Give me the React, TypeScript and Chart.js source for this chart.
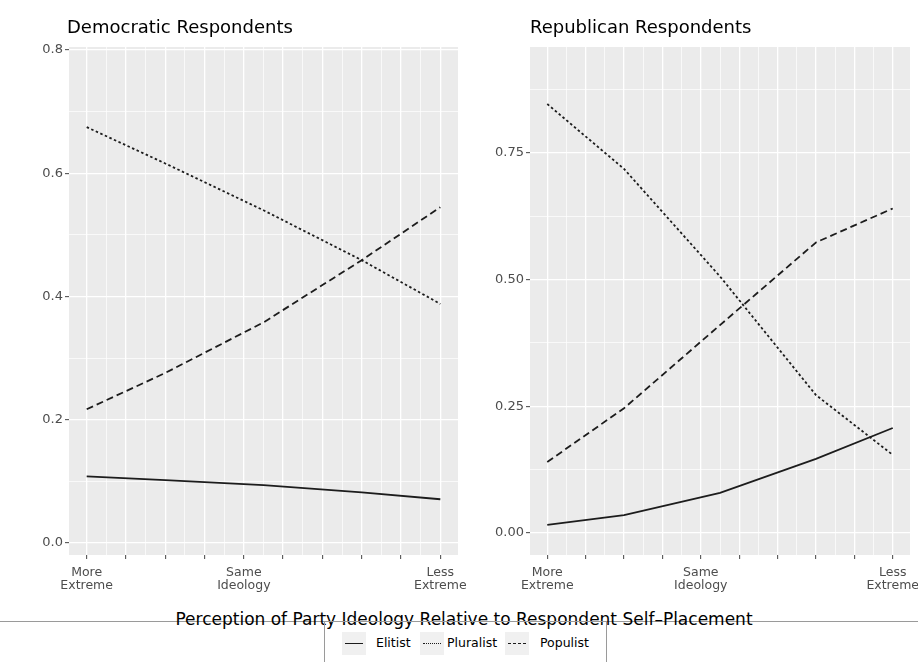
import React, { useEffect, useRef } from "react";
import { Chart, registerables } from "chart.js";

Chart.register(...registerables);

// ---- data ----
const xPositions = [0, 2, 4.5, 7, 9];

const demElitist = [0.108, 0.102, 0.094, 0.082, 0.071];
const demPluralist = [0.675, 0.616, 0.54, 0.459, 0.388];
const demPopulist = [0.217, 0.276, 0.358, 0.459, 0.545];

const repElitist = [0.016, 0.035, 0.079, 0.146, 0.207];
const repPluralist = [0.846, 0.718, 0.506, 0.272, 0.154];
const repPopulist = [0.14, 0.246, 0.41, 0.573, 0.64];

const seriesNames = ["Elitist", "Pluralist", "Populist"];

// x ticks: majors at integers, minors at halves
const xTickValues = [0, 0.5, 1, 1.5, 2, 2.5, 3, 3.5, 4, 4.5, 5, 5.5, 6, 6.5, 7, 7.5, 8, 8.5, 9];
const xTickLabels: (string | string[])[] = [
  ["More", "Extreme"], "", "", "", "", "", "", "", ["Same", "Ideology"], "", "", "", "", "", "", "", "", "", ["Less", "Extreme"],
];

const demYTicks = [0, 0.1, 0.2, 0.3, 0.4, 0.5, 0.6, 0.7, 0.8];
const demYLabels = ["0.0", "", "0.2", "", "0.4", "", "0.6", "", "0.8"];
const repYTicks = [0, 0.125, 0.25, 0.375, 0.5, 0.625, 0.75, 0.875];
const repYLabels = ["0.00", "", "0.25", "", "0.50", "", "0.75", ""];

const axisTitle = "Perception of Party Ideology Relative to Respondent Self\u2013Placement";

const FONT = "'DejaVu Sans', 'Liberation Sans', sans-serif";
const LINE_COLOR = "#1c1c1c";
const dashes: number[][] = [[], [2.5, 2.5], [7, 4]];

type PanelProps = {
  title: string;
  series: number[][];
  yTicks: number[];
  yLabels: string[];
  yMin: number;
  yMax: number;
  canvasLeft: number;
  canvasWidth: number;
  yAxisWidth: number;
  padRight: number;
  titleDx: number;
};

function Panel(p: PanelProps) {
  const ref = useRef<HTMLCanvasElement | null>(null);
  useEffect(() => {
    if (!ref.current) return;
    const bgPlugin = {
      id: "panelBg",
      beforeDraw(chart: any) {
        const { ctx, chartArea } = chart;
        ctx.save();
        ctx.fillStyle = "#ebebeb";
        ctx.fillRect(chartArea.left, chartArea.top, chartArea.right - chartArea.left, chartArea.bottom - chartArea.top);
        ctx.restore();
      },
      afterDraw(chart: any) {
        const { ctx, chartArea } = chart;
        ctx.save();
        ctx.fillStyle = "#000";
        ctx.font = `18px ${FONT}`;
        ctx.textBaseline = "alphabetic";
        ctx.textAlign = "left";
        ctx.fillText(p.title, chartArea.left + p.titleDx, 33);
        ctx.restore();
      },
    };
    const chart = new Chart(ref.current, {
      type: "line",
      data: {
        datasets: p.series.map((vals, i) => ({
          label: seriesNames[i],
          data: xPositions.map((x, j) => ({ x, y: vals[j] })),
          borderColor: LINE_COLOR,
          borderWidth: 1.8,
          borderDash: dashes[i],
          pointRadius: 0,
          tension: 0,
          fill: false,
        })),
      },
      options: {
        animation: false,
        responsive: false,
        devicePixelRatio: 1,
        layout: { padding: { top: 47, left: 0, right: p.padRight, bottom: 0 } },
        plugins: { legend: { display: false }, tooltip: { enabled: false }, title: { display: false } },
        scales: {
          x: {
            type: "linear",
            min: -0.45,
            max: 9.45,
            afterBuildTicks: (s: any) => {
              s.ticks = xTickValues.map((v) => ({ value: v }));
            },
            afterFit: (s: any) => {
              s.height = 45;
              s.paddingLeft = 0;
              s.paddingRight = 0;
            },
            border: { display: false },
            grid: {
              color: "#ffffff",
              lineWidth: (c: any) => (c.index % 2 === 0 ? 1.3 : 0.7),
              tickColor: (c: any) => (c.index % 2 === 0 ? "#444" : "rgba(0,0,0,0)"),
              tickLength: 4,
              tickWidth: 1,
            },
            ticks: {
              autoSkip: false,
              maxRotation: 0,
              minRotation: 0,
              padding: 7,
              color: "#4d4d4d",
              font: { family: FONT, size: 12.5, lineHeight: 1.05 },
              callback: (_v: any, i: number) => xTickLabels[i],
            },
          },
          y: {
            type: "linear",
            min: p.yMin,
            max: p.yMax,
            afterBuildTicks: (s: any) => {
              s.ticks = p.yTicks.map((v) => ({ value: v }));
            },
            afterFit: (s: any) => {
              s.width = p.yAxisWidth;
              s.paddingTop = 0;
              s.paddingBottom = 0;
            },
            border: { display: false },
            grid: {
              color: "#ffffff",
              lineWidth: (c: any) => (c.index % 2 === 0 ? 1.3 : 0.7),
              tickColor: (c: any) => (c.index % 2 === 0 ? "#444" : "rgba(0,0,0,0)"),
              tickLength: 4,
              tickWidth: 1,
            },
            ticks: {
              autoSkip: false,
              padding: 2,
              color: "#4d4d4d",
              font: { family: FONT, size: 13 },
              callback: (_v: any, i: number) => p.yLabels[i],
            },
          },
        },
      },
      plugins: [bgPlugin],
    });
    return () => chart.destroy();
  }, []);
  return (
    <canvas
      ref={ref}
      width={p.canvasWidth}
      height={600}
      style={{ position: "absolute", left: p.canvasLeft, top: 0, width: p.canvasWidth, height: 600, display: "block" }}
    />
  );
}

function LegendKey({ dash }: { dash: string }) {
  return (
    <div style={{ width: 24, height: 23, background: "#f0f0f0", position: "relative" }}>
      <div
        style={{
          position: "absolute",
          left: 3,
          right: 3,
          top: 11,
          borderTop: `1.8px ${dash} ${LINE_COLOR}`,
        }}
      />
    </div>
  );
}

export default function App() {
  return (
    <div style={{ position: "absolute", left: 0, top: 0, width: 918, height: 662, background: "#fff", overflow: "hidden", fontFamily: FONT }}>
      <Panel
        title="Democratic Respondents"
        series={[demElitist, demPluralist, demPopulist]}
        yTicks={demYTicks}
        yLabels={demYLabels}
        yMin={-0.0195}
        yMax={0.805}
        canvasLeft={0}
        canvasWidth={472}
        yAxisWidth={69}
        padRight={14}
        titleDx={-2}
      />
      <Panel
        title="Republican Respondents"
        series={[repElitist, repPluralist, repPopulist]}
        yTicks={repYTicks}
        yLabels={repYLabels}
        yMin={-0.0435}
        yMax={0.9585}
        canvasLeft={472}
        canvasWidth={446}
        yAxisWidth={58}
        padRight={8}
        titleDx={0}
      />
      <div style={{ position: "absolute", left: 0, top: 621, width: 918, height: 1, background: "#9a9a9a" }} />
      <div
        style={{
          position: "absolute",
          left: 464,
          top: 609,
          transform: "translateX(-50%)",
          whiteSpace: "nowrap",
          fontSize: 17,
          lineHeight: "20px",
          color: "#000",
        }}
      >
        {axisTitle}
      </div>
      <div
        style={{
          position: "absolute",
          left: 324,
          top: 621,
          width: 283,
          height: 50,
          borderLeft: "1px solid #9a9a9a",
          borderRight: "1px solid #9a9a9a",
          borderTop: "1px solid #9a9a9a",
          boxSizing: "border-box",
        }}
      />
      {seriesNames.map((name, i) => {
        const keyLeft = [342, 420, 505][i];
        const textLeft = [376, 447, 540][i];
        return (
          <React.Fragment key={name}>
            <div style={{ position: "absolute", left: keyLeft, top: 632 }}>
              <LegendKey dash={["solid", "dotted", "dashed"][i]} />
            </div>
            <div style={{ position: "absolute", left: textLeft, top: 635, fontSize: 12.5, lineHeight: "16px", color: "#000" }}>
              {name}
            </div>
          </React.Fragment>
        );
      })}
    </div>
  );
}
